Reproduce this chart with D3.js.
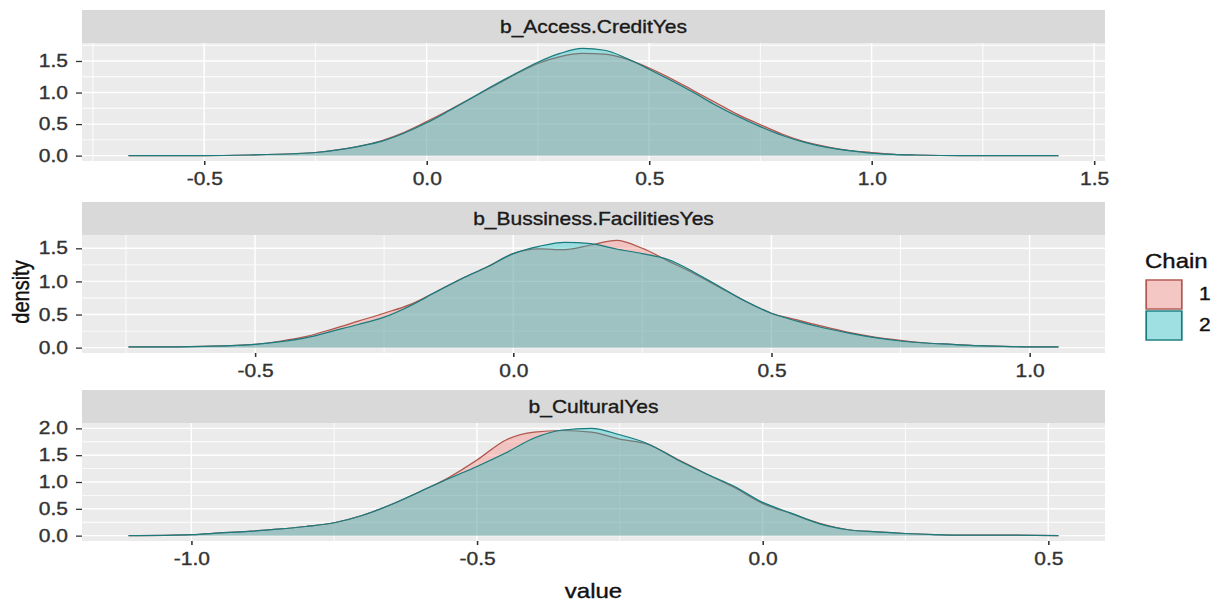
<!DOCTYPE html>
<html>
<head>
<meta charset="utf-8">
<script src="https://cdn.jsdelivr.net/npm/d3@7"></script>
<style>
  body { margin: 0; background: #fff; }
  svg { display: block; font-family: "Liberation Sans", Arial, sans-serif; }
</style>
</head>
<body>
<svg id="chart" width="1221" height="605" preserveAspectRatio="none"></svg>
<script>
// ---- data ----
const panelNames = ["b_Access.CreditYes", "b_Bussiness.FacilitiesYes", "b_CulturalYes"];
const chains = ["1", "2"];

const creditX = [-0.67, -0.5, -0.4, -0.3, -0.25, -0.2, -0.15, -0.1, -0.05, 0, 0.05, 0.1, 0.15, 0.2, 0.25, 0.3, 0.35, 0.4, 0.45, 0.5, 0.55, 0.6, 0.65, 0.7, 0.75, 0.8, 0.85, 0.9, 0.95, 1.0, 1.05, 1.1, 1.2, 1.42];
const creditChain1 = [0, 0, 0.01, 0.03, 0.05, 0.09, 0.15, 0.24, 0.37, 0.54, 0.72, 0.91, 1.10, 1.29, 1.46, 1.57, 1.62, 1.61, 1.53, 1.39, 1.22, 1.03, 0.84, 0.65, 0.49, 0.34, 0.22, 0.14, 0.08, 0.05, 0.02, 0.01, 0, 0];
const creditChain2 = [0, 0, 0.01, 0.03, 0.05, 0.09, 0.15, 0.23, 0.36, 0.52, 0.71, 0.91, 1.11, 1.30, 1.48, 1.62, 1.70, 1.67, 1.54, 1.37, 1.19, 1.00, 0.80, 0.62, 0.46, 0.32, 0.21, 0.13, 0.08, 0.04, 0.02, 0.01, 0, 0];

const facilX = [-0.745, -0.7, -0.6, -0.5, -0.45, -0.4, -0.35, -0.3, -0.25, -0.2, -0.15, -0.1, -0.05, 0, 0.05, 0.1, 0.15, 0.2, 0.25, 0.3, 0.35, 0.4, 0.45, 0.5, 0.55, 0.6, 0.65, 0.7, 0.75, 0.8, 0.85, 0.9, 0.95, 1.0, 1.056];
const facilChain1 = [0.01, 0.01, 0.02, 0.05, 0.10, 0.17, 0.28, 0.40, 0.52, 0.65, 0.84, 1.04, 1.22, 1.42, 1.49, 1.48, 1.55, 1.62, 1.50, 1.31, 1.12, 0.91, 0.70, 0.52, 0.42, 0.32, 0.23, 0.16, 0.11, 0.07, 0.05, 0.03, 0.02, 0.01, 0.01];
const facilChain2 = [0.01, 0.01, 0.02, 0.05, 0.09, 0.15, 0.25, 0.35, 0.46, 0.63, 0.84, 1.04, 1.22, 1.42, 1.53, 1.59, 1.57, 1.49, 1.42, 1.33, 1.14, 0.92, 0.70, 0.52, 0.40, 0.30, 0.22, 0.15, 0.10, 0.07, 0.05, 0.03, 0.02, 0.01, 0.01];

const culturalX = [-1.11, -1.0, -0.95, -0.9, -0.85, -0.8, -0.75, -0.7, -0.65, -0.6, -0.55, -0.5, -0.45, -0.4, -0.35, -0.3, -0.25, -0.2, -0.15, -0.1, -0.05, 0, 0.05, 0.1, 0.15, 0.2, 0.25, 0.3, 0.35, 0.4, 0.518];
const culturalChain1 = [0, 0.02, 0.05, 0.08, 0.12, 0.17, 0.24, 0.38, 0.58, 0.82, 1.08, 1.41, 1.78, 1.93, 1.96, 1.93, 1.80, 1.70, 1.43, 1.16, 0.90, 0.60, 0.41, 0.23, 0.11, 0.07, 0.04, 0.02, 0.01, 0.01, 0];
const culturalChain2 = [0, 0.02, 0.05, 0.08, 0.12, 0.17, 0.24, 0.38, 0.58, 0.82, 1.06, 1.29, 1.54, 1.82, 1.97, 2.00, 1.88, 1.71, 1.42, 1.16, 0.92, 0.62, 0.42, 0.22, 0.11, 0.07, 0.04, 0.02, 0.01, 0.01, 0];

const xTicks = [[-0.5, 0, 0.5, 1.0, 1.5], [-0.5, 0, 0.5, 1.0], [-1.0, -0.5, 0, 0.5]];
const yTicks = [[0, 0.5, 1.0, 1.5], [0, 0.5, 1.0, 1.5], [0, 0.5, 1.0, 1.5, 2.0]];

// ---- layout (picture is stretched horizontally, so draw in a narrower viewBox) ----
const SX = 1.2;
const VW = 1221 / SX, VH = 605;
const px = v => v / SX;
const plotLeft = px(82), plotRight = px(1105);
const panelTops = [10, 202, 390];
const stripH = 33, plotH = 118;
const fillColor = { "1": "#F8766D", "2": "#00BFC4" };
const lineColor = { "1": "#b0574f", "2": "#1a7c7e" };

const svg = d3.select("#chart").attr("viewBox", `0 0 ${VW} ${VH}`);

const panels = [
  { name: panelNames[0], xs: creditX, c1: creditChain1, c2: creditChain2 },
  { name: panelNames[1], xs: facilX, c1: facilChain1, c2: facilChain2 },
  { name: panelNames[2], xs: culturalX, c1: culturalChain1, c2: culturalChain2 }
];

function expand(ext) {
  const pad = (ext[1] - ext[0]) * 0.05;
  return [ext[0] - pad, ext[1] + pad];
}

function minorBreaks(ticks, domain) {
  const step = ticks[1] - ticks[0];
  const out = [];
  for (let i = -1; i < ticks.length; i++) {
    const v = ticks[0] + (i + 0.5) * step;
    if (v > domain[0] && v < domain[1]) out.push(v);
  }
  return out;
}

// slightly heavier text, like the blurred reference
function inkText(sel, color) {
  sel.attr("fill", color).attr("stroke", color).attr("stroke-width", 0.35);
}

panels.forEach((p, i) => {
  const top = panelTops[i];
  const plotTop = top + stripH, plotBottom = plotTop + plotH;
  const ymax = d3.max(p.c1.concat(p.c2));

  const x = d3.scaleLinear().domain(expand(d3.extent(p.xs))).range([plotLeft, plotRight]);
  const y = d3.scaleLinear().domain([-0.05 * ymax, 1.05 * ymax]).range([plotBottom, plotTop]);

  const g = svg.append("g").attr("class", "panel");

  // strip
  g.append("rect")
    .attr("x", plotLeft).attr("y", top)
    .attr("width", plotRight - plotLeft).attr("height", stripH)
    .attr("fill", "#D9D9D9");
  g.append("text")
    .attr("x", (plotLeft + plotRight) / 2)
    .attr("y", top + stripH / 2 + 6.5)
    .attr("text-anchor", "middle")
    .attr("font-size", 17.5)
    .call(inkText, "#1A1A1A")
    .text(p.name);

  // background + grid
  g.append("rect")
    .attr("x", plotLeft).attr("y", plotTop)
    .attr("width", plotRight - plotLeft).attr("height", plotH)
    .attr("fill", "#EBEBEB");

  const grid = g.append("g").attr("stroke", "#fff");
  grid.selectAll(".ymin").data(minorBreaks(yTicks[i], y.domain())).enter().append("line")
    .attr("x1", plotLeft).attr("x2", plotRight)
    .attr("y1", d => y(d)).attr("y2", d => y(d))
    .attr("stroke-width", 0.9);
  grid.selectAll(".xmin").data(minorBreaks(xTicks[i], x.domain())).enter().append("line")
    .attr("y1", plotTop).attr("y2", plotBottom)
    .attr("x1", d => x(d)).attr("x2", d => x(d))
    .attr("stroke-width", 0.8);
  grid.selectAll(".ymaj").data(yTicks[i]).enter().append("line")
    .attr("x1", plotLeft).attr("x2", plotRight)
    .attr("y1", d => y(d)).attr("y2", d => y(d))
    .attr("stroke-width", 1.4);
  grid.selectAll(".xmaj").data(xTicks[i]).enter().append("line")
    .attr("y1", plotTop).attr("y2", plotBottom)
    .attr("x1", d => x(d)).attr("x2", d => x(d))
    .attr("stroke-width", 1.2);

  // densities
  const area = d3.area()
    .x(d => x(d[0])).y0(y(0)).y1(d => y(d[1]))
    .curve(d3.curveMonotoneX);
  const line = d3.line()
    .x(d => x(d[0])).y(d => y(d[1]))
    .curve(d3.curveMonotoneX);

  [p.c1, p.c2].forEach((vals, k) => {
    const chain = chains[k];
    const pts = p.xs.map((v, j) => [v, vals[j]]);
    g.append("path").datum(pts)
      .attr("d", area)
      .attr("fill", fillColor[chain])
      .attr("fill-opacity", 0.34);
    g.append("path").datum(pts)
      .attr("d", line)
      .attr("fill", "none")
      .attr("stroke", lineColor[chain])
      .attr("stroke-width", 1.2);
  });

  // axes
  const yAxis = d3.axisLeft(y).tickValues(yTicks[i])
    .tickFormat(d => d.toFixed(1)).tickSize(5).tickPadding(px(8));
  const gy = g.append("g").attr("transform", `translate(${plotLeft},0)`).call(yAxis);

  const xAxis = d3.axisBottom(x).tickValues(xTicks[i])
    .tickFormat(d => d.toFixed(1)).tickSize(4).tickPadding(8);
  const gx = g.append("g").attr("transform", `translate(0,${plotBottom})`).call(xAxis);

  [gx, gy].forEach(a => {
    a.select(".domain").remove();
    a.selectAll(".tick line").attr("stroke", "#333").attr("stroke-width", 1.3);
    a.selectAll(".tick text")
      .attr("font-size", 17.5)
      .attr("font-family", "Liberation Sans, Arial, sans-serif")
      .call(inkText, "#333");
  });
});

// axis titles
svg.append("text")
  .attr("transform", `translate(${px(29)},292) rotate(-90)`)
  .attr("text-anchor", "middle")
  .attr("font-size", 20)
  .call(inkText, "#111")
  .text("density");

svg.append("text")
  .attr("x", (plotLeft + plotRight) / 2)
  .attr("y", 598)
  .attr("text-anchor", "middle")
  .attr("font-size", 20)
  .call(inkText, "#111")
  .text("value");

// legend
const legend = svg.append("g").attr("class", "legend");
legend.append("text")
  .attr("x", px(1145)).attr("y", 268)
  .attr("font-size", 20)
  .call(inkText, "#111")
  .text("Chain");

const keyW = px(38), keyH = 31;
const key = legend.selectAll(".key").data(chains).enter().append("g")
  .attr("transform", (d, i) => `translate(${px(1145)},${279 + i * keyH})`);
key.append("rect")
  .attr("width", keyW).attr("height", keyH)
  .attr("fill", "#F2F2F2");
key.append("rect")
  .attr("x", 1).attr("y", 1)
  .attr("width", keyW - 2).attr("height", keyH - 2)
  .attr("fill", d => fillColor[d])
  .attr("fill-opacity", 0.34)
  .attr("stroke", d => lineColor[d])
  .attr("stroke-width", 1.4);
key.append("text")
  .attr("x", keyW + px(16))
  .attr("y", keyH / 2 + 6)
  .attr("font-size", 17.5)
  .call(inkText, "#111")
  .text(d => d);
</script>
</body>
</html>
